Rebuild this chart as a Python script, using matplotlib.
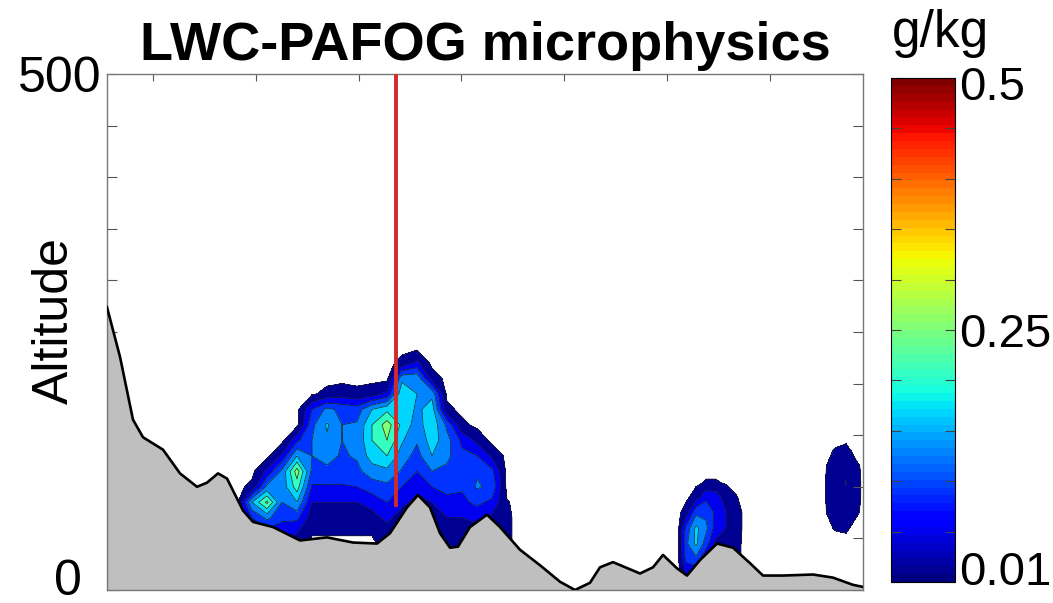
import numpy as np
import matplotlib
matplotlib.use("Agg")
import matplotlib.pyplot as plt
from matplotlib.colors import Normalize
from matplotlib.cm import ScalarMappable
from matplotlib.transforms import ScaledTranslation

plt.rcParams['font.family'] = ['Liberation Sans', 'DejaVu Sans']

# ---------------- data ----------------
# terrain profile (distance units, altitude)
terrain_x = [0.0, 1.3, 2.6, 3.6, 4.6, 5.6, 7.3, 9.0, 10.0, 11.1, 12.0, 13.6, 14.6, 16.6,
             19.3, 22.0, 24.6, 27.0, 28.3, 30.0, 31.1, 32.3, 33.3, 34.3, 35.1, 36.3, 38.0,
             39.3, 41.3, 43.3, 45.3, 46.8, 48.3, 49.3, 50.6, 53.3, 54.6, 55.6, 57.0, 58.0,
             59.3, 61.0, 62.6, 64.3, 65.6, 67.6, 70.6, 72.6, 74.6, 75.6]
terrain_alt = [274, 226, 165, 148, 142, 136, 113, 100, 104, 113, 108, 77, 66, 61,
               48, 51, 46, 45, 55, 80, 92, 80, 55, 41, 42, 61, 73,
               61, 39, 24, 8, 0, 7, 22, 27, 16, 22, 34, 21, 14,
               29, 45, 41, 26, 14, 14, 15, 12, 5, 3]

# main cloud: columns (x) of LWC profiles at altitude levels
main_x = [13.0, 14.5, 16.0, 17.5, 19.0, 20.5, 22.0, 23.5, 25.0, 26.5,
          28.0, 29.5, 31.0, 32.5, 34.0, 35.5, 37.0, 38.5, 40.0, 41.5]
main_alt = [10, 25, 40, 55, 70, 85, 100, 115, 130, 145, 160, 175, 190, 205, 220, 235, 250]
main_lwc_cols = [
    [0, 0, 0, 0, 0, 0, 0, 0, 0, 0, 0, 0, 0, 0, 0, 0, 0],
    [0.06, 0.06, 0.06, 0.06, 0.09, 0.17, 0.02, 0, 0, 0, 0, 0, 0, 0, 0, 0, 0],
    [0.05, 0.05, 0.05, 0.07, 0.14, 0.26, 0.14, 0.06, 0, 0, 0, 0, 0, 0, 0, 0, 0],
    [0.04, 0.04, 0.04, 0.06, 0.10, 0.13, 0.145, 0.14, 0.06, 0, 0, 0, 0, 0, 0, 0, 0],
    [0, 0, 0.02, 0.05, 0.10, 0.17, 0.23, 0.27, 0.17, 0.08, 0, 0, 0, 0, 0, 0, 0],
    [0, 0, 0, 0.012, 0.03, 0.05, 0.085, 0.12, 0.13, 0.13, 0.12, 0.09, 0.005, 0, 0, 0, 0],
    [0, 0, 0, 0.012, 0.03, 0.05, 0.085, 0.12, 0.145, 0.165, 0.175, 0.14, 0.02, 0, 0, 0, 0],
    [0, 0, 0, 0.012, 0.03, 0.05, 0.085, 0.115, 0.125, 0.13, 0.13, 0.12, 0.03, 0, 0, 0, 0],
    [0, 0, 0, 0.012, 0.03, 0.05, 0.09, 0.12, 0.135, 0.14, 0.135, 0.11, 0.02, 0, 0, 0, 0],
    [0, 0, 0, 0.012, 0.035, 0.065, 0.11, 0.15, 0.19, 0.21, 0.21, 0.17, 0.03, 0, 0, 0, 0],
    [0.02, 0.02, 0.02, 0.03, 0.06, 0.09, 0.12, 0.16, 0.21, 0.25, 0.27, 0.20, 0.06, 0, 0, 0, 0],
    [0.03, 0.03, 0.03, 0.03, 0.03, 0.06, 0.09, 0.125, 0.15, 0.175, 0.20, 0.21, 0.20, 0.16, 0.02, 0, 0],
    [0.04, 0.04, 0.04, 0.04, 0.04, 0.04, 0.06, 0.09, 0.115, 0.135, 0.15, 0.16, 0.17, 0.16, 0.06, 0, 0],
    [0.03, 0.03, 0.03, 0.03, 0.03, 0.05, 0.09, 0.13, 0.17, 0.19, 0.20, 0.19, 0.16, 0.03, 0, 0, 0],
    [0.02, 0.02, 0.02, 0.03, 0.05, 0.08, 0.10, 0.12, 0.14, 0.145, 0.12, 0.02, 0, 0, 0, 0, 0],
    [0.02, 0.02, 0.02, 0.03, 0.05, 0.08, 0.095, 0.10, 0.10, 0.08, 0.02, 0, 0, 0, 0, 0, 0],
    [0.03, 0.03, 0.03, 0.03, 0.06, 0.10, 0.135, 0.125, 0.09, 0.04, 0, 0, 0, 0, 0, 0, 0],
    [0.03, 0.03, 0.03, 0.03, 0.04, 0.08, 0.12, 0.10, 0.04, 0, 0, 0, 0, 0, 0, 0, 0],
    [0.015, 0.015, 0.015, 0.015, 0.015, 0.012, 0, 0, 0, 0, 0, 0, 0, 0, 0, 0, 0],
    [0, 0, 0, 0, 0, 0, 0, 0, 0, 0, 0, 0, 0, 0, 0, 0, 0],
]

# small cloud over the second hill
small_x = [57.1, 57.9, 58.9, 59.9, 60.9, 61.9, 62.9, 63.9]
small_alt = [15, 30, 45, 60, 75, 90, 105, 120]
small_lwc_cols = [
    [0, 0, 0, 0, 0, 0, 0, 0],
    [0.05, 0.10, 0.12, 0.10, 0.03, 0, 0, 0],
    [0.05, 0.12, 0.18, 0.18, 0.12, 0.03, 0, 0],
    [0.05, 0.05, 0.11, 0.14, 0.12, 0.08, 0.012, 0],
    [0.04, 0.04, 0.04, 0.07, 0.08, 0.07, 0.012, 0],
    [0.03, 0.03, 0.03, 0.05, 0.05, 0.03, 0.005, 0],
    [0.02, 0.02, 0.02, 0.025, 0.025, 0.012, 0, 0],
    [0, 0, 0, 0, 0, 0, 0, 0],
]

# isolated cloud at the right border
blob_x = [71.5, 72.8, 73.9, 75.0, 76.0]
blob_alt = [45, 60, 75, 90, 105, 120, 135, 150]
blob_lwc_cols = [
    [0, 0, 0, 0, 0, 0, 0, 0],
    [0, 0.012, 0.03, 0.035, 0.035, 0.03, 0.012, 0],
    [0, 0.015, 0.035, 0.045, 0.052, 0.04, 0.018, 0],
    [0, 0, 0.013, 0.016, 0.016, 0.014, 0, 0],
    [0, 0, 0, 0, 0, 0, 0, 0],
]

levels = [0.01, 0.05, 0.09, 0.13, 0.17, 0.21, 0.25, 0.29, 0.33]
profile_x = 28.9
profile_bottom = 82
cbar_ticks = [0, 0.05, 0.1, 0.15, 0.2, 0.25, 0.3, 0.35, 0.4, 0.45, 0.5]
cbar_labels = ['0.01', '', '', '', '', '0.25', '', '', '', '', '0.5']
ytick_vals = list(range(0, 501, 50))
ytick_labels = ['0'] + [''] * 9 + ['500']

# ---------------- plot ----------------
W, H = 1053, 603
fig = plt.figure(figsize=(W / 100, H / 100), dpi=100)
ax = fig.add_axes([107 / W, 1 - 590 / H, 756 / W, 516 / H])
cax = fig.add_axes([891 / W, 1 - 582 / H, 64 / W, 504 / H])

cmap = plt.get_cmap('jet', 64)
norm = Normalize(0, 0.5)
band_colors = [cmap(norm(l)) for l in levels[:-1]]

for xs, zs, cols in [(main_x, main_alt, main_lwc_cols),
                     (small_x, small_alt, small_lwc_cols),
                     (blob_x, blob_alt, blob_lwc_cols)]:
    Z = np.array(cols).T
    ax.contourf(xs, zs, Z, levels=levels, colors=band_colors, zorder=1)
    ax.contour(xs, zs, Z, levels=levels, colors='#202020', linewidths=0.5, zorder=1.5)

ax.fill_between(terrain_x, 0, terrain_alt, color='#bfbfbf', zorder=2, linewidth=0)
ax.plot(terrain_x, terrain_alt, color='black', lw=1.9, zorder=3)
ax.plot([profile_x, profile_x], [profile_bottom, 500], color='#d22a2a', lw=2.8, zorder=4)

ax.set_xlim(0, 75.6)
ax.set_ylim(0, 500)
ax.set_xticks([4.6 + 10.28 * k for k in range(7)])
ax.xaxis.set_ticks_position('top')
ax.tick_params(axis='x', direction='in', length=5, labeltop=False, labelbottom=False,
               color='#555555', width=0.8)
ax.set_yticks(ytick_vals)
ax.set_yticklabels(ytick_labels)
ax.tick_params(axis='y', direction='in', length=7, left=True, right=True,
               labelsize=36, pad=4, color='#555555', width=0.8)
for sp in ax.spines.values():
    sp.set_color('#777777')
    sp.set_linewidth(1.0)
# shift the "0" label left/up as in the reference
lab0 = ax.get_yticklabels()[0]
lab0.set_transform(lab0.get_transform() + ScaledTranslation(-20 / 100, 13 / 100, fig.dpi_scale_trans))

ax.set_title('LWC-PAFOG microphysics', fontsize=39, fontweight='bold', pad=10)
ax.set_ylabel('Altitude', fontsize=36, va='center')
ax.yaxis.set_label_coords(-0.069, 0.523)

sm = ScalarMappable(norm=norm, cmap=cmap)
cb = fig.colorbar(sm, cax=cax)
cb.set_ticks(cbar_ticks)
cb.set_ticklabels(cbar_labels)
cax.tick_params(direction='in', length=7, left=True, right=True, labelsize=34, pad=3,
                color='#444444', width=0.8)
cb.outline.set_linewidth(0.8)
cl = cax.get_yticklabels()
cl[0].set_transform(cl[0].get_transform() + ScaledTranslation(0, 14 / 100, fig.dpi_scale_trans))
cl[-1].set_transform(cl[-1].get_transform() + ScaledTranslation(0, -5 / 100, fig.dpi_scale_trans))
fig.text(892 / W, 1 - 47 / H, 'g/kg', fontsize=37, ha='left', va='baseline')

fig.savefig('out.png', dpi=100)
